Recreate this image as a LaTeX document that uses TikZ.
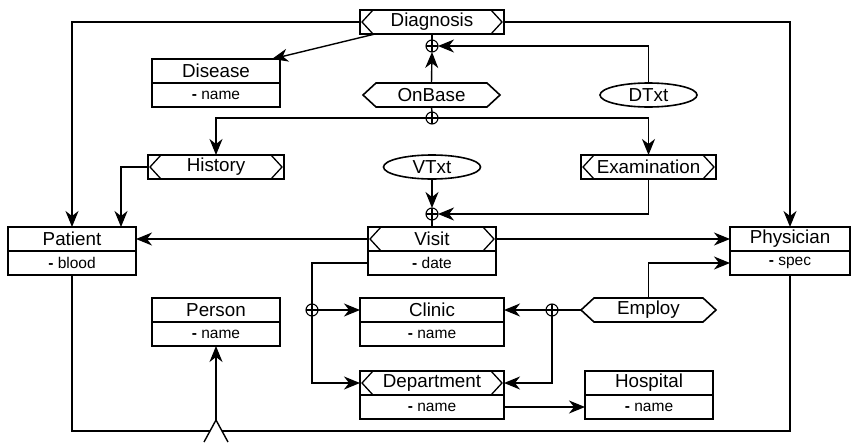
\documentclass[tikz,border=0pt]{standalone}
\usepackage{fontspec}
\setmainfont{Liberation Sans}
\usetikzlibrary{arrows.meta,calc,shapes.geometric}

% inner angle marks at both ends of a box
\newcommand\drawchev[1]{%
  \draw[line width=1.3pt] ($(#1.north west)+(13,0)$) -- ($(#1.west)+(2,0)$) -- ($(#1.south west)+(13,0)$);
  \draw[line width=1.3pt] ($(#1.north east)+(-13,0)$) -- ($(#1.east)+(-2,0)$) -- ($(#1.south east)+(-13,0)$);}
% pointed hexagon around a node
\newcommand\drawhex[1]{%
  \draw[line width=1.6pt] ($(#1.north west)+(13,0)$) -- ($(#1.north east)+(-13,0)$) -- (#1.east)
    -- ($(#1.south east)+(-13,0)$) -- ($(#1.south west)+(13,0)$) -- (#1.west) -- cycle;}

\begin{document}
\begin{tikzpicture}[x=1pt,y=-1pt,
  every node/.style={inner sep=0pt,outer sep=0pt},
  box/.style={draw,line width=1.6pt,minimum height=24pt},
  ttl/.style={box,font=\fontsize{18.8}{22}\selectfont},
  att/.style={box,font=\fontsize{15.5}{18}\selectfont},
  ghost/.style={minimum height=24pt,font=\fontsize{18.8}{22}\selectfont},
  oval/.style={ellipse,draw,line width=1.6pt,minimum width=97pt,minimum height=24pt,font=\fontsize{18.8}{22}\selectfont},
  junction/.style={circle,draw,line width=1.1pt,minimum size=12pt,
    path picture={\draw[line width=1.1pt] (path picture bounding box.north) -- (path picture bounding box.south)
      (path picture bounding box.west) -- (path picture bounding box.east);}},
  conn/.style={line width=1.4pt},
  arr/.style={conn,-{Stealth[length=16pt,width=13pt,inset=5pt]}},
]
\useasboundingbox (0,0) rectangle (851,442);

% entities and relationships
\node[ttl,minimum width=144pt] (diag) at (432,22) {Diagnosis};
\node[ttl,minimum width=128pt] (disease) at (216,71) {Disease};
\node[att,minimum width=128pt] (disease-a) at (216,95) {\textbf{-} name};
\node[ghost,minimum width=137pt] (onbase) at (431.5,95) {OnBase};
\node[oval] (dtxt) at (648.5,95) {DTxt};
\node[ttl,minimum width=136pt] (history) at (216,167) {History};
\node[ttl,minimum width=135pt] (exam) at (648.5,167) {Examination};
\node[oval] (vtxt) at (432,167) {VTxt};
\node[ttl,minimum width=128pt] (patient) at (72,239) {Patient};
\node[att,minimum width=128pt] (patient-a) at (72,263) {\textbf{-} blood};
\node[ttl,minimum width=128pt] (visit) at (432,239) {Visit};
\node[att,minimum width=128pt] (visit-a) at (432,263) {\textbf{-} date};
\node[ttl,minimum width=120pt] (phys) at (790,239) {Physician};
\node[att,minimum width=120pt] (phys-a) at (790,263) {\textbf{-} spec};
\node[ttl,minimum width=128pt] (person) at (216,310) {Person};
\node[att,minimum width=128pt] (person-a) at (216,334) {\textbf{-} name};
\node[ttl,minimum width=144pt] (clinic) at (432,310) {Clinic};
\node[att,minimum width=144pt] (clinic-a) at (432,334) {\textbf{-} name};
\node[ghost,minimum width=135pt] (employ) at (648.5,310) {Employ};
\node[ttl,minimum width=144pt] (dept) at (432,383) {Department};
\node[att,minimum width=144pt] (dept-a) at (432,407) {\textbf{-} name};
\node[ttl,minimum width=128pt] (hosp) at (649,383) {Hospital};
\node[att,minimum width=128pt] (hosp-a) at (649,407) {\textbf{-} name};

\drawchev{diag}
\drawchev{history}
\drawchev{exam}
\drawchev{visit}
\drawchev{dept}
\drawhex{onbase}
\drawhex{employ}

% junctions
\node[junction] (j1) at (432,46) {};
\node[junction] (j2) at (432,118) {};
\node[junction] (j3) at (432,214) {};
\node[junction] (j4) at (312,310) {};
\node[junction] (j5) at (552,310) {};

% connectors
\draw[arr] (diag.west) -| (patient.north);
\draw[arr] (diag.east) -| (phys.north);
\draw[arr] ($(diag.south west)+(15,0)$) -- ($(disease.north east)+(-8,0)$);
\draw[conn] (diag.south) -- (j1.north);
\draw[arr] (onbase.north) -- (j1.south);
\draw[arr] (dtxt.north) |- (j1.east);
\draw[conn] (onbase.south) -- (j2.north);
\draw[arr] (j2.west) -| (history.north);
\draw[arr] (j2.east) -| (exam.north);
\draw[arr] (history.west) -| ($(patient.north east)+(-15,0)$);
\draw[arr] (vtxt.south) -- (j3.north);
\draw[arr] (exam.south) |- (j3.east);
\draw[conn] (j3.south) -- (visit.north);
\draw[arr] (visit.west) -- (patient.east);
\draw[arr] (visit.east) -- (phys.west);
\draw[arr] (employ.north) |- (phys-a.west);
\draw[conn] (visit-a.west) -| (j4.north);
\draw[arr] (j4.east) -- (clinic.west);
\draw[arr] (j4.south) |- (dept.west);
\draw[conn] (employ.west) -- (j5.east);
\draw[arr] (j5.west) -- (clinic.east);
\draw[arr] (j5.south) |- (dept.east);
\draw[arr] (dept-a.east) -- (hosp-a.west);

% generalization of Patient and Physician into Person
\coordinate (loop) at (72,431);
\coordinate (gen) at (216,420);
\draw[conn] (patient-a.south) -- (loop) -| (phys-a.south);
\fill[white] (204,442) -- (gen) -- (228,442) -- cycle;
\draw[conn] (204,442) -- (gen) -- (228,442);
\draw[arr] (gen) -- (person-a.south);
\end{tikzpicture}
\end{document}
